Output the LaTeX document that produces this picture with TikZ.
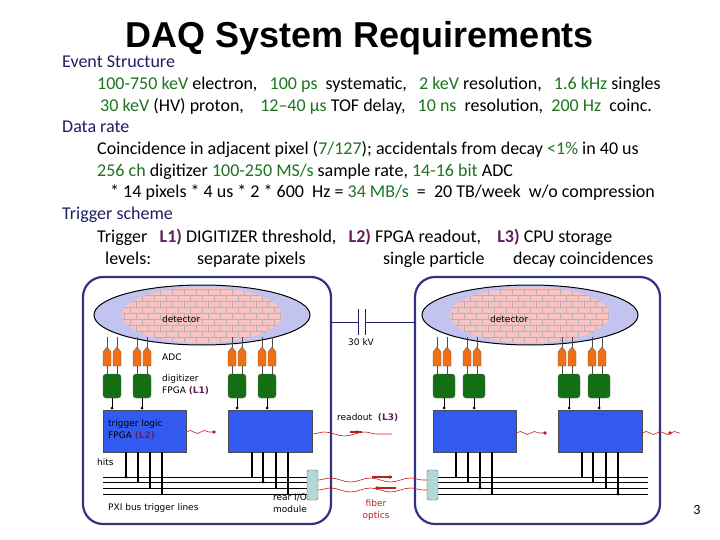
\documentclass[tikz,border=0pt]{standalone}
\usepackage{fontspec}
\setmainfont{Carlito}
\newfontfamily\headfont{Liberation Sans}
\newfontfamily\smallfont{DejaVu Sans}
\usetikzlibrary{decorations.pathmorphing}
\definecolor{navy}{RGB}{30,30,100}
\definecolor{grn}{RGB}{30,115,30}
\definecolor{purp}{RGB}{100,30,90}
\definecolor{boxline}{RGB}{50,50,130}
\definecolor{lav}{RGB}{195,195,240}
\definecolor{pinkish}{RGB}{250,195,195}
\definecolor{adc}{RGB}{240,110,20}
\definecolor{dig}{RGB}{20,110,20}
\definecolor{fpga}{RGB}{50,90,240}
\definecolor{rio}{RGB}{180,215,215}
\definecolor{wire}{RGB}{190,30,30}
\newcommand{\G}[1]{\textcolor{grn}{#1}}
\newcommand{\Lv}[1]{\textcolor{purp}{\textbf{#1}}}
\begin{document}
\begin{tikzpicture}[x=1pt,y=-1pt,
  txt/.style={anchor=base west,inner sep=0pt,font=\fontsize{18}{18}\selectfont},
  lbl/.style={anchor=west,inner sep=0pt,font=\smallfont\fontsize{9}{12}\selectfont},
  crate/.style={draw=boxline,line width=2.2pt,rounded corners=20pt},
  adcbox/.style={draw=black!60,fill=adc,line width=0.4pt},
  digbox/.style={draw=black!60,fill=dig,rounded corners=3pt},
  fpgabox/.style={draw=black!70,fill=fpga},
  riobox/.style={draw=black!60,fill=rio,rounded corners=2pt},
  bus/.style={black,line width=0.6pt},
  tap/.style={black,line width=1.4pt},
  fiber/.style={wire,line width=0.6pt,decorate,decoration={snake,amplitude=2pt,segment length=40pt}},
  dotc/.style={circle,fill=wire,inner sep=1.3pt}]
\useasboundingbox[fill=white] (0,0) rectangle (720,540);
% title and text
\node[inner sep=0pt,font=\headfont\bfseries\fontsize{36}{36}\selectfont] (title) at (360,38) {DAQ System Requirements};
\node[txt,text=navy] (h1) at (62,68) {Event Structure};
\node[txt] (l1) at (97,90) {\G{100-750 keV} electron, \ \ \G{100 ps} \ systematic, \ \ \G{2 keV} resolution, \ \ \G{1.6 kHz} singles};
\node[txt] (l2) at (100,112) {\G{30 keV} (HV) proton, \ \ \ \G{12--40 µs} TOF delay, \ \ \G{10 ns} \ resolution, \ \G{200 Hz} \ coinc.};
\node[txt,text=navy] (h2) at (62,133) {Data rate};
\node[txt] (l3) at (97,155) {Coincidence in adjacent pixel (\G{7/127}); accidentals from decay \G{<1\%} in 40 us};
\node[txt] (l4) at (97,177) {\G{256 ch} digitizer \G{100-250 MS/s} sample rate, \G{14-16 bit} ADC};
\node[txt] (l5) at (110,198) {* 14 pixels * 4 us * 2 * 600 \ Hz = \G{34 MB/s} \ = \ 20 TB/week \ w/o compression};
\node[txt,text=navy] (h3) at (62,220) {Trigger scheme};
\node[txt] (l6) at (97,242) {Trigger \ \ \Lv{L1)} DIGITIZER threshold, \ \ \Lv{L2)} FPGA readout, \ \ \ \Lv{L3)} CPU storage};
\node[txt] (l7) at (105,264) {levels:};
\node[txt] (l8) at (197,264) {separate pixels};
\node[txt] (l9) at (383,264) {single particle};
\node[txt] (l10) at (513,264) {decay coincidences};
\node[inner sep=0pt,font=\fontsize{14}{14}\selectfont] (pg) at (697,510) {3};
% crates
\draw[crate] (83,277) rectangle (331,524);
\draw[crate] (415,277) rectangle (660,524);
% HV capacitor
\draw[navy,line width=0.8pt] (331,322) -- (358,322) (358,309) -- (358,335) (365,309) -- (365,335) (365,322) -- (415,322);
\node[lbl] (hv) at (348,342) {30 kV};
% detectors
\foreach \cx/\nm in {202/detL,530/detR}{
  \fill[lav,draw=black,line width=1pt] (\cx,315) ellipse (108pt and 30pt);
  \begin{scope}
    \clip (\cx,315) ellipse (80pt and 28pt);
    \fill[pinkish] (\cx-80,285) rectangle (\cx+80,345);
    \foreach \yy in {289,295,...,343}{\draw[black!30,line width=0.3pt] (\cx-80,\yy) -- (\cx+80,\yy);}
    \foreach \xx in {-78,-66,...,78}{\foreach \yy in {289,301,...,343}{
      \draw[black!30,line width=0.3pt] (\cx+\xx,\yy) -- (\cx+\xx,\yy+6) (\cx+\xx+6,\yy+6) -- (\cx+\xx+6,\yy+12);}}
  \end{scope}
  \node[lbl] (\nm) at (\cx-40,319) {detector};
}
% channels
\foreach \x/\gw in {103/18,133/18,228/18,258/18,433/22,463/22,558/22,588/22}{
  \draw[black!70] (\x+4,337) -- (\x+4,348) (\x+14,337) -- (\x+14,348);
  \draw[adcbox] (\x,366) -- (\x,352) -- (\x+4,347) -- (\x+8,352) -- (\x+8,366) -- cycle;
  \draw[adcbox] (\x+10,366) -- (\x+10,352) -- (\x+14,347) -- (\x+18,352) -- (\x+18,366) -- cycle;
  \draw[black!70] (\x+4,366) -- (\x+4,374) (\x+14,366) -- (\x+14,374);
  \draw[digbox] (\x,374) rectangle (\x+\gw,398);
  \draw[tap,line width=1pt] (\x+\gw/2,398) -- (\x+\gw/2,408);
  \fill (\x+\gw/2,408) circle (1.5pt);
}
% FPGA boxes
\draw[fpgabox] (103,410) rectangle (186,452);
\draw[fpgabox] (228,410) rectangle (312,452);
\draw[fpgabox] (433,410) rectangle (516,452);
\draw[fpgabox] (558,410) rectangle (642,452);
% bus lines
\foreach \yy in {477,482,488,494}{
  \draw[bus] (103,\yy) -- (307,\yy);
  \draw[bus] (438,\yy) -- (648,\yy);}
% taps
\foreach \x/\yy/\d in {126/477/1,138/482/0,150/488/0,162/494/0,252/477/0,263/482/1,276/488/0,288/494/0,
                      456/477/0,468/482/0,480/488/1,492/494/0,582/477/0,593/482/0,606/488/0,618/494/1}{
  \draw[tap] (\x,452) -- (\x,\yy);
  \ifnum\d=1 \fill (\x,\yy) circle (1.6pt);\fi
}
% rear I/O modules
\draw[riobox] (307,470) rectangle (318,500);
\draw[riobox] (427,470) rectangle (438,500);
% red links
\coordinate (a1) at (186,432); \coordinate (a2) at (214,432);
\coordinate (b1) at (312,434); \coordinate (b2) at (392,434);
\coordinate (c1) at (516,433); \coordinate (c2) at (545,433);
\coordinate (d1) at (642,433); \coordinate (d2) at (680,433);
\draw[fiber,decoration={amplitude=1.5pt,segment length=14pt}] (a1) -- (a2);
\draw[fiber,decoration={amplitude=1.5pt,segment length=14pt}] (c1) -- (c2);
\draw[fiber,decoration={amplitude=1.5pt,segment length=14pt}] (d1) -- (d2);
\draw[fiber] (b1) -- (b2);
\node[dotc] at (a2) {}; \node[dotc] at (c2) {}; \node[dotc] at (670,433) {};
\draw[wire,line width=1.2pt] (350,432) -- (362,432); \node[dotc] at (357,432) {};
\draw[fiber] (318,480) -- (427,480);
\draw[fiber] (318,490) -- (427,490);
\draw[wire,line width=1.2pt] (372,477) -- (392,477); \node[dotc] at (390,477) {};
\draw[wire,line width=1.2pt] (376,488) -- (396,488); \node[dotc] at (377,488) {};
% labels
\node[lbl] (adcl) at (162,357) {ADC};
\node[lbl,align=left] (digl) at (162,385) {digitizer\\FPGA \Lv{(L1)}};
\node[lbl,align=left] (trgl) at (108,430) {trigger logic\\FPGA \Lv{(L2)}};
\node[lbl] (rdl) at (337,418) {readout \ \Lv{(L3)}};
\node[lbl] (hits) at (97,462) {hits};
\node[lbl] (pxi) at (108,508) {PXI bus trigger lines};
\node[lbl,align=center,anchor=center] (rio) at (290,503) {rear I/O\\module};
\node[lbl,align=center,anchor=center,text=wire] (fo) at (376,510) {fiber\\optics};
\end{tikzpicture}
\end{document}
